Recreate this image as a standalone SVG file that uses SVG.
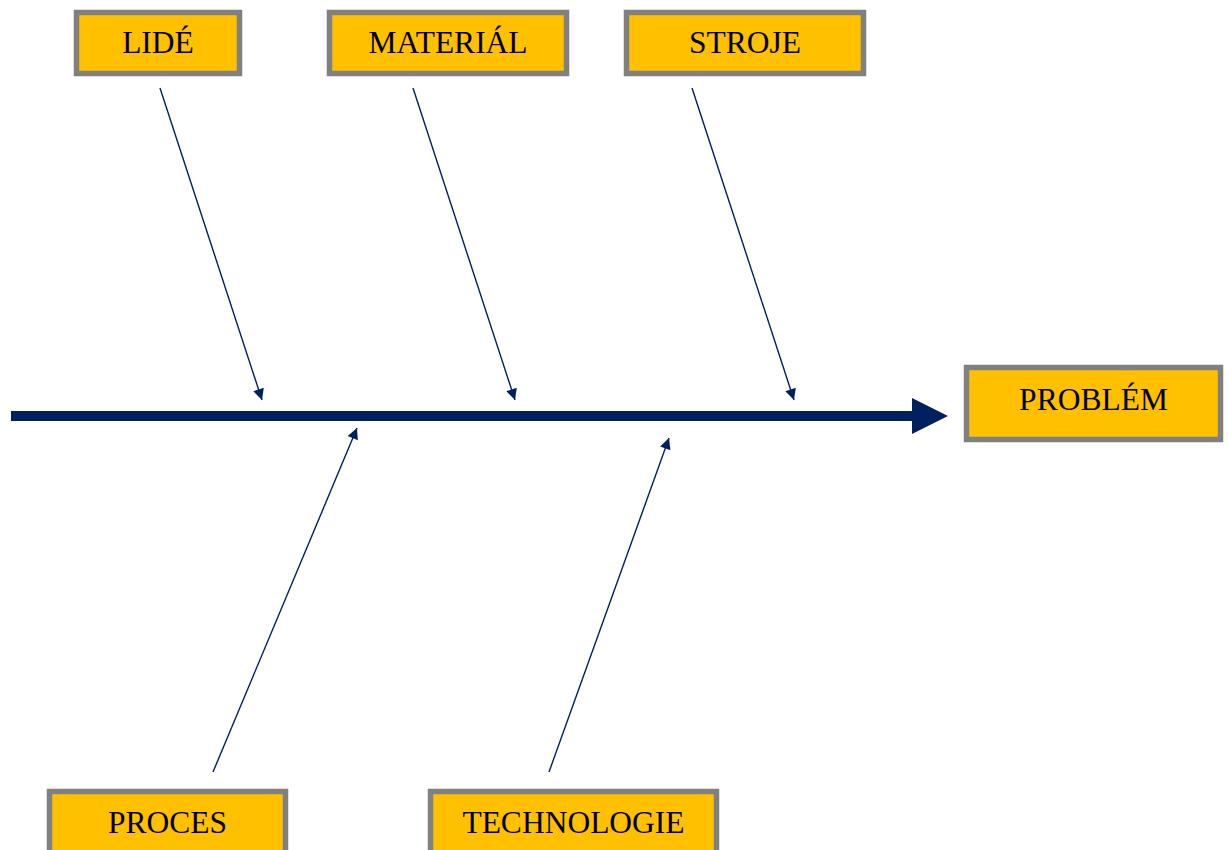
<svg xmlns="http://www.w3.org/2000/svg" width="1228" height="850" viewBox="0 0 1228 850">
<style>
.box{fill:#FFC000;stroke:#808080;stroke-width:5.5}
.lbl{font-family:"Liberation Serif","Times New Roman",serif;font-size:31.5px;fill:#000;text-anchor:middle}
.br{stroke:#002060;stroke-width:1.4;fill:none;marker-end:url(#ah)}
</style>
<defs>
<marker id="ah" viewBox="0 0 10 10" refX="10" refY="5" markerUnits="userSpaceOnUse" markerWidth="15" markerHeight="11" orient="auto">
<path d="M0,0 L10,5 L0,10 Z" fill="#002060"/>
</marker>
</defs>
<rect width="1228" height="850" fill="#fff"/>
<g id="connectors">
<line x1="11" y1="416" x2="914" y2="416" stroke="#002060" stroke-width="10"/>
<path d="M912,398 L948,416 L912,434 Z" fill="#002060"/>
<line class="br" x1="160" y1="88" x2="262" y2="400"/>
<line class="br" x1="413" y1="88" x2="515" y2="400"/>
<line class="br" x1="692" y1="88" x2="794" y2="400"/>
<line class="br" x1="213" y1="772" x2="357" y2="428"/>
<line class="br" x1="549" y1="772" x2="669" y2="438"/>
</g>
<g id="lide">
<rect class="box" x="76.5" y="12.5" width="163" height="61"/>
<text class="lbl" x="158" y="53">LIDÉ</text>
</g>
<g id="material">
<rect class="box" x="329.5" y="12.5" width="237" height="61"/>
<text class="lbl" x="448" y="53">MATERIÁL</text>
</g>
<g id="stroje">
<rect class="box" x="626.5" y="12.5" width="237" height="61"/>
<text class="lbl" x="745" y="53">STROJE</text>
</g>
<g id="problem">
<rect class="box" x="966.5" y="367.5" width="254" height="72"/>
<text class="lbl" x="1093.5" y="410">PROBLÉM</text>
</g>
<g id="proces">
<rect class="box" x="49.5" y="791.5" width="236" height="70"/>
<text class="lbl" x="167.5" y="833">PROCES</text>
</g>
<g id="technologie">
<rect class="box" x="430.5" y="791.5" width="286" height="70"/>
<text class="lbl" x="573.5" y="833">TECHNOLOGIE</text>
</g>
</svg>
